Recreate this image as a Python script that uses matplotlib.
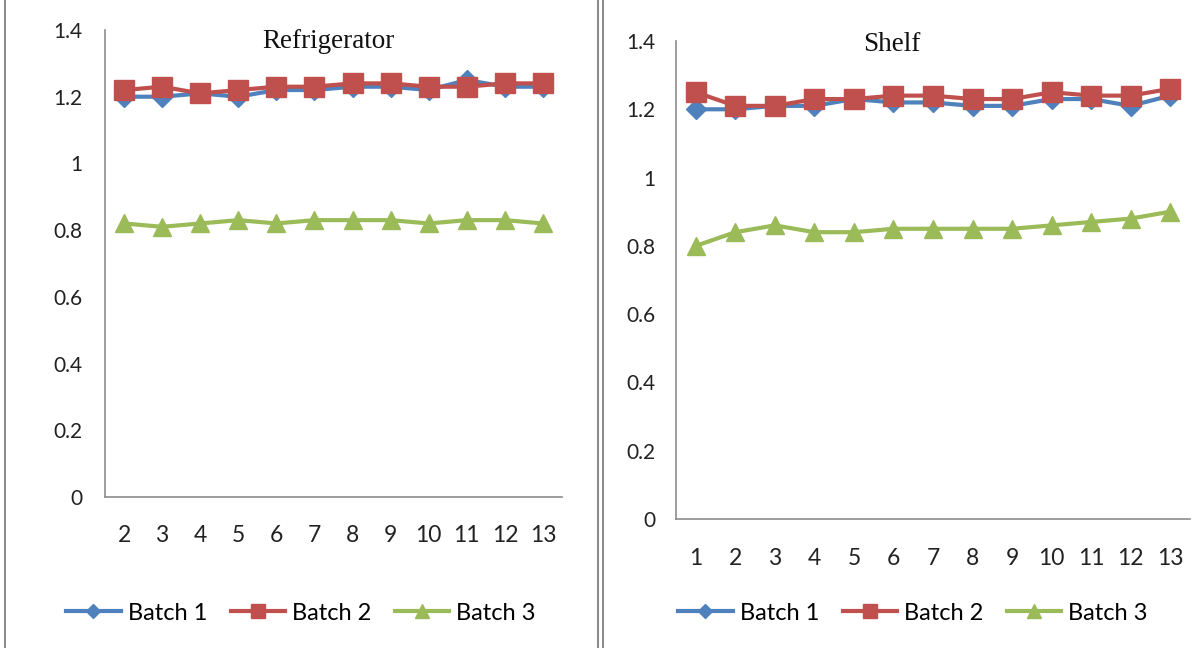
import matplotlib.pyplot as plt
from matplotlib.patches import Rectangle

plt.rcParams['font.family'] = ['Lato', 'DejaVu Sans']

# storage test, refrigerator (weeks 2-13) and shelf (weeks 1-13)
fridge_x = [2, 3, 4, 5, 6, 7, 8, 9, 10, 11, 12, 13]
fridge_b1 = [1.20, 1.20, 1.21, 1.20, 1.22, 1.22, 1.23, 1.23, 1.22, 1.25, 1.23, 1.23]
fridge_b2 = [1.22, 1.23, 1.21, 1.22, 1.23, 1.23, 1.24, 1.24, 1.23, 1.23, 1.24, 1.24]
fridge_b3 = [0.82, 0.81, 0.82, 0.83, 0.82, 0.83, 0.83, 0.83, 0.82, 0.83, 0.83, 0.82]

shelf_x = [1, 2, 3, 4, 5, 6, 7, 8, 9, 10, 11, 12, 13]
shelf_b1 = [1.20, 1.20, 1.21, 1.21, 1.23, 1.22, 1.22, 1.21, 1.21, 1.23, 1.23, 1.21, 1.24]
shelf_b2 = [1.25, 1.21, 1.21, 1.23, 1.23, 1.24, 1.24, 1.23, 1.23, 1.25, 1.24, 1.24, 1.26]
shelf_b3 = [0.80, 0.84, 0.86, 0.84, 0.84, 0.85, 0.85, 0.85, 0.85, 0.86, 0.87, 0.88, 0.90]

labels = ['Batch 1', 'Batch 2', 'Batch 3']
colors = ['#4F81BD', '#C0504D', '#9BBB59']
markers = ['D', 's', '^']
msizes = [10, 14, 13]

fig = plt.figure(figsize=(12.04, 6.48), dpi=100)

# panel frames
fig.patches.append(Rectangle((5 / 1204, -0.01), 593 / 1204, 1.02, transform=fig.transFigure,
                             fill=False, edgecolor='#8c8c8c', linewidth=1.5))
fig.patches.append(Rectangle((603 / 1204, -0.01), 610 / 1204, 1.02, transform=fig.transFigure,
                             fill=False, edgecolor='#8c8c8c', linewidth=1.5))


def panel(rect, x, series, title, title_xy, legend_xy, ypad, xpad):
    ax = fig.add_axes(rect)
    handles = []
    for ys, c, m, ms, lab in zip(series, colors, markers, msizes, labels):
        h, = ax.plot(x, ys, color=c, lw=3, marker=m, markersize=ms, label=lab)
        handles.append(h)
    ax.set_ylim(0, 1.4)
    ax.set_yticks([0, 0.2, 0.4, 0.6, 0.8, 1.0, 1.2, 1.4])
    ax.set_yticklabels(['0', '0.2', '0.4', '0.6', '0.8', '1', '1.2', '1.4'])
    ax.set_xlim(x[0] - 0.5, x[-1] + 0.5)
    ax.set_xticks(x)
    ax.tick_params(length=0, colors='#222222')
    ax.tick_params(axis='y', pad=ypad, labelsize=15)
    ax.tick_params(axis='x', pad=xpad, labelsize=16.5)
    for s in ['top', 'right']:
        ax.spines[s].set_visible(False)
    for s in ['left', 'bottom']:
        ax.spines[s].set_color('#8c8c8c')
        ax.spines[s].set_linewidth(1.2)
    fig.text(title_xy[0], title_xy[1], title, fontsize=19.5, family='Liberation Serif',
             ha='center', va='baseline', color='#111111')
    fig.legend(handles=handles, loc='center', bbox_to_anchor=legend_xy, ncol=3, frameon=False,
               fontsize=17, handlelength=2.3, handletextpad=0.3, columnspacing=1.0,
               markerscale=0.75)
    return ax


panel([105 / 1204, 1 - 497 / 648, 457 / 1204, 467 / 648], fridge_x,
      [fridge_b1, fridge_b2, fridge_b3], 'Refrigerator', (328 / 1204, 1 - 48 / 648),
      (301 / 1204, 1 - 613 / 648), 16.5, 20)
panel([676 / 1204, 1 - 519 / 648, 514 / 1204, 478 / 648], shelf_x,
      [shelf_b1, shelf_b2, shelf_b3], 'Shelf', (892 / 1204, 1 - 51 / 648),
      (913 / 1204, 1 - 613 / 648), 15, 21)

fig.savefig('out.png', dpi=100)
